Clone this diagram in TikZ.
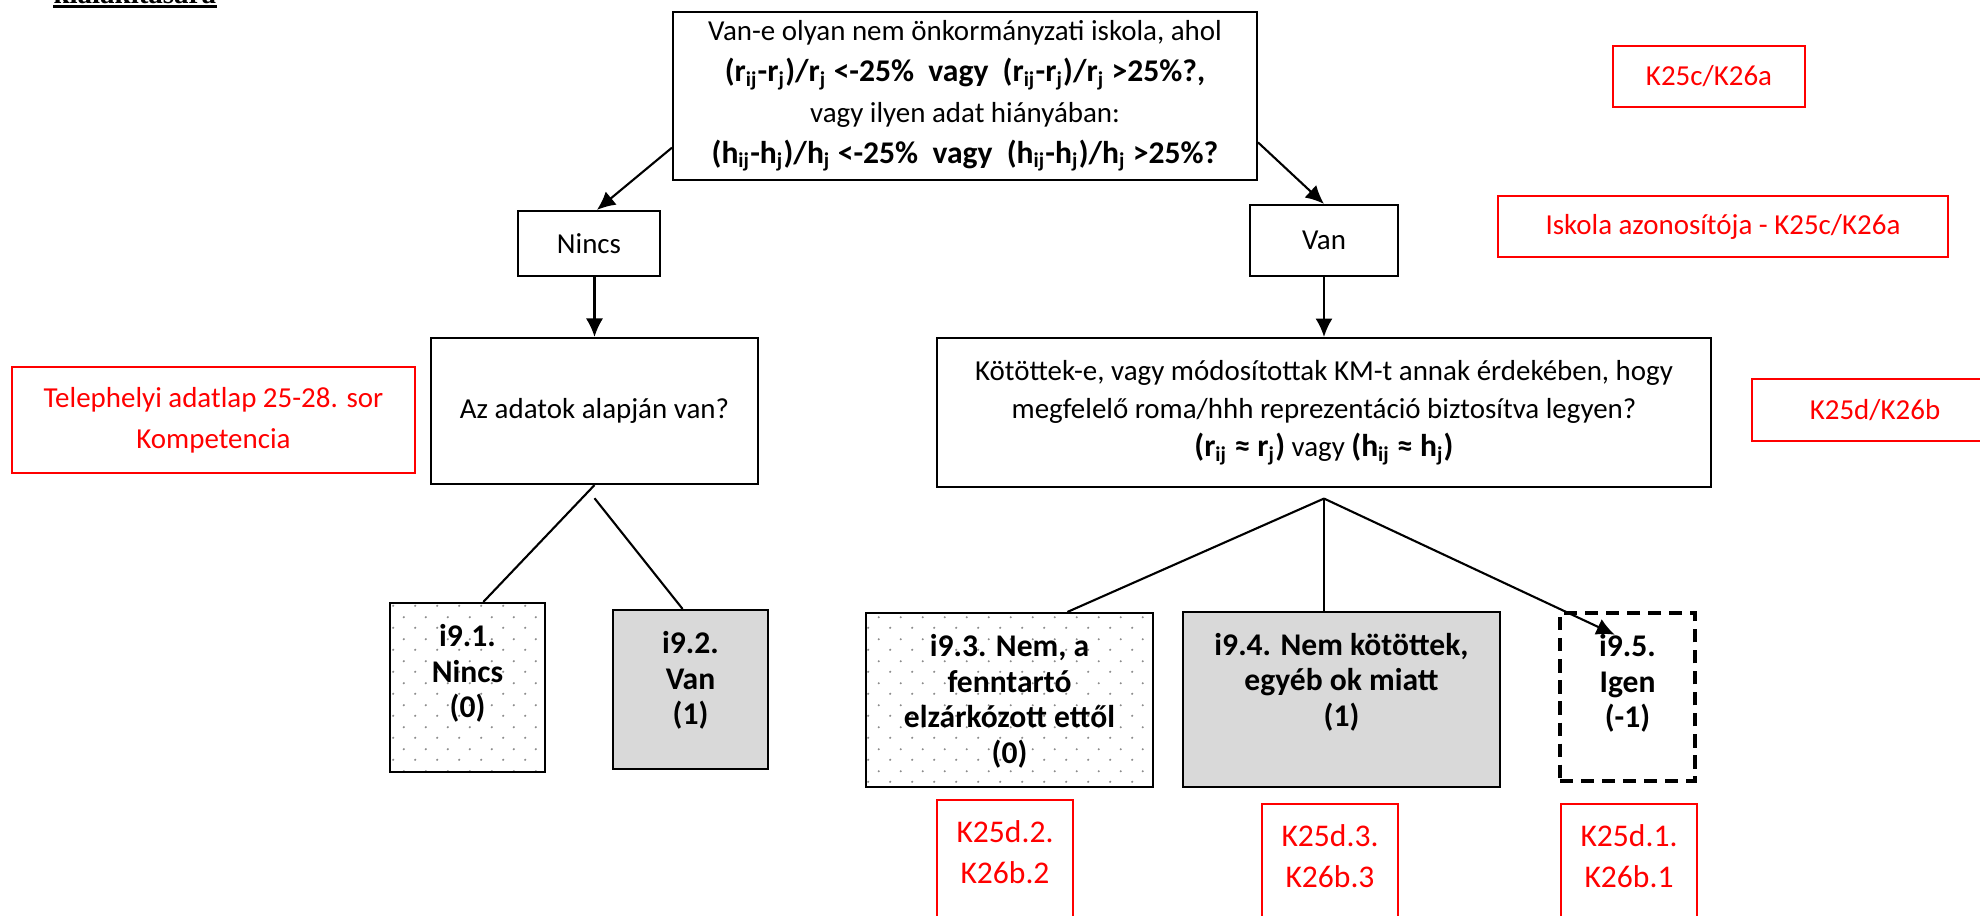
\documentclass[tikz,border=0pt]{standalone}
\usepackage{fontspec}
\setmainfont{Carlito}
\newfontfamily\headfont{Liberation Serif}
\usetikzlibrary{arrows.meta,patterns}

\pgfdeclarepatternformonly{sparsedots}{\pgfpointorigin}{\pgfpoint{8.2pt}{8.2pt}}{\pgfpoint{8.2pt}{8.2pt}}{%
  \pgfpathcircle{\pgfpoint{2pt}{2pt}}{0.45pt}%
  \pgfpathcircle{\pgfpoint{6.1pt}{6.1pt}}{0.45pt}%
  \pgfusepath{fill}}

\newcommand{\padtop}[3]{\parbox[c][#2][t]{#1}{\centering\vspace*{8pt}#3}}
\newcommand{\boldpart}[1]{{\fontsize{12}{15.5}\selectfont\bfseries #1}}

\begin{document}
\begin{tikzpicture}[x=0.38pt, y=-0.38pt,
    qbox/.style={draw, line width=0.8pt, align=center, inner sep=0pt, font={\fontsize{11}{14}\selectfont}},
    redbox/.style={draw=red, line width=0.8pt, text=red, align=center, inner sep=0pt, font={\fontsize{11}{15.5}\selectfont}},
    leafbox/.style={draw, line width=0.8pt, inner sep=0pt, font={\fontsize{12}{13.6}\selectfont\bfseries}},
    dotleaf/.style={pattern=sparsedots, pattern color=black!45},
    grayleaf/.style={fill=black!15},
    dashleaf/.style={dash pattern=on 5pt off 3pt, line width=1.5pt},
    arr/.style={-{Latex[length=7pt,width=6.5pt]}, line width=0.8pt},
    branch/.style={line width=0.8pt}]
  \useasboundingbox (0,0) rectangle (1980,916);

  % heading, cut by the top edge
  \node[anchor=base west, inner sep=0pt, font=\headfont\bfseries\fontsize{11}{13}\selectfont] (heading) at (53,4) {kialakítására};
  \draw[line width=0.9pt] ([yshift=-0.9pt]heading.base west) -- ([yshift=-0.9pt]heading.base east);

  % questions
  \node[qbox, minimum width=221.9pt, minimum height=63.8pt, font={\fontsize{11}{15.5}\selectfont}] (q1) at (965,96) {Van-e olyan nem önkormányzati iskola, ahol\\
    \boldpart{(r\textsubscript{ij}-r\textsubscript{j})/r\textsubscript{j} <-25\%\ \ vagy\ \ (r\textsubscript{ij}-r\textsubscript{j})/r\textsubscript{j} >25\%?,}\\
    vagy ilyen adat hiányában:\\
    \boldpart{(h\textsubscript{ij}-h\textsubscript{j})/h\textsubscript{j} <-25\%\ \ vagy\ \ (h\textsubscript{ij}-h\textsubscript{j})/h\textsubscript{j} >25\%?}};
  \node[qbox, minimum width=54pt, minimum height=24.7pt] (nincs) at (589,243.5) {Nincs};
  \node[qbox, minimum width=56.2pt, minimum height=27pt] (van) at (1324,240.5) {Van};
  \node[qbox, minimum width=124.3pt, minimum height=55.5pt] (adatok) at (594.5,411) {Az adatok alapján van?};
  \node[qbox, minimum width=294.1pt, minimum height=56.6pt, font={\fontsize{11}{14.5}\selectfont}] (kotott) at (1324,412.5) {Kötöttek-e, vagy módosítottak KM-t annak érdekében, hogy\\
    megfelelő roma/hhh reprezentáció biztosítva legyen?\\
    \boldpart{(r\textsubscript{ij} ≈ r\textsubscript{j})} vagy \boldpart{(h\textsubscript{ij} ≈ h\textsubscript{j})}};

  % answers
  \node[leafbox, dotleaf] (i91) at (467.5,687.5) {\padtop{58.9pt}{64.2pt}{i9.1.\\Nincs\\(0)}};
  \node[leafbox, grayleaf] (i92) at (690.5,689.5) {\padtop{58.9pt}{60.4pt}{i9.2.\\Van\\(1)}};
  \node[leafbox, dotleaf] (i93) at (1009.5,700) {\padtop{109.1pt}{66.1pt}{i9.3. Nem, a\\fenntartó\\elzárkózott ettől\\(0)}};
  \node[leafbox, grayleaf] (i94) at (1341.5,699.5) {\padtop{120.5pt}{66.5pt}{i9.4. Nem kötöttek,\\egyéb ok miatt\\(1)}};
  \node[leafbox, dashleaf] (i95) at (1627.5,697) {\padtop{51.3pt}{63.8pt}{i9.5.\\Igen\\(-1)}};

  % red notes
  \node[redbox, minimum width=73pt, minimum height=23.2pt] (k25c) at (1709,76.5) {K25c/K26a};
  \node[redbox, minimum width=171pt, minimum height=23.2pt] (iskola) at (1723,226.5) {Iskola azonosítója - K25c/K26a};
  \node[redbox, minimum width=153.1pt, minimum height=40.3pt] (telep) at (213.5,420) {Telephelyi adatlap 25-28. sor\\Kompetencia};
  \node[redbox, minimum width=93.5pt, minimum height=23.6pt] (k25d) at (1875,410) {K25d/K26b};
  \node[redbox, font={\fontsize{12}{15.5}\selectfont}] (k25d2) at (1005,867.5) {\padtop{51.7pt}{51.3pt}{K25d.2.\\K26b.2}};
  \node[redbox, font={\fontsize{12}{15.5}\selectfont}] (k25d3) at (1330,871.5) {\padtop{51.7pt}{51.3pt}{K25d.3.\\K26b.3}};
  \node[redbox, font={\fontsize{12}{15.5}\selectfont}] (k25d1) at (1629,871.5) {\padtop{51.7pt}{51.3pt}{K25d.1.\\K26b.1}};

  % connectors
  \draw[arr] (q1.190) -- ([xshift=3pt]nincs.north);
  \draw[arr] (q1.-9) -- (van.north);
  \draw[arr] (adatok.north |- nincs.south) -- (adatok.north);
  \draw[arr] (van.south) -- (van.south |- kotott.north);
  \draw[branch] (adatok.south) -- ([xshift=6pt]i91.north);
  \draw[branch] ([yshift=-5pt]adatok.south) -- ([xshift=-3pt]i92.north);
  \coordinate (fork) at ([yshift=-4pt]kotott.south);
  \draw[branch] (fork) -- ([xshift=22pt]i93.north);
  \draw[branch] (fork) -- (fork |- i94.north);
  \draw[arr] (fork) -- ([xshift=-4.8pt,yshift=-9pt]i95.north);
\end{tikzpicture}
\end{document}
